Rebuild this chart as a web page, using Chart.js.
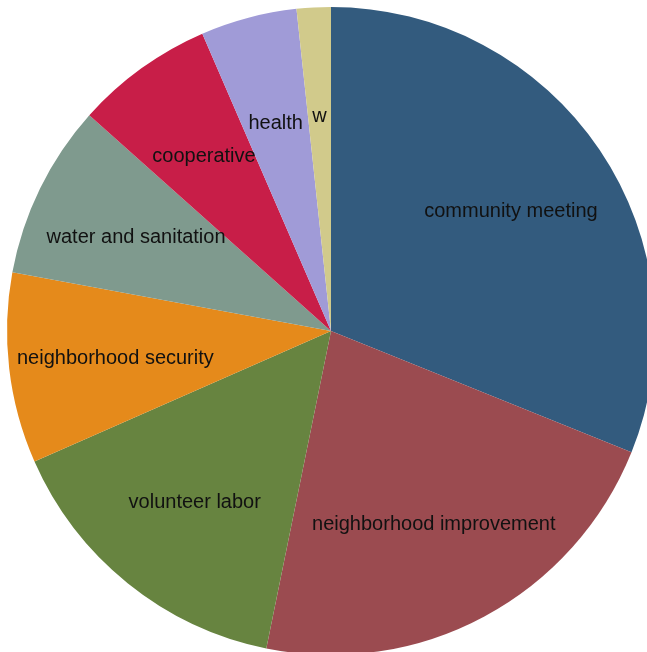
<!DOCTYPE html>
<html>
<head>
<meta charset="utf-8">
<script src="https://cdn.jsdelivr.net/npm/chart.js@4/dist/chart.umd.min.js"></script>
<style>
    html, body { margin: 0; padding: 0; overflow: hidden; background: #fff; }
    #wrap { width: 647px; height: 652px; overflow: hidden; }
</style>
</head>
<body>
<div id="wrap"><canvas id="pie" width="662" height="662"></canvas></div>
<script>
// Categories and shares (percent, clockwise from 12 o'clock)
const categories = [
    'community meeting',
    'neighborhood improvement',
    'volunteer labor',
    'neighborhood security',
    'water and sanitation',
    'cooperative',
    'health',
    'w'
];
const shares = [31.1, 22.1, 15.2, 9.5, 8.7, 6.9, 4.8, 1.7];
const sliceColors = ['#335b7e', '#9b4b50', '#678440', '#e58a1b', '#7f9a8e', '#c81e48', '#a09bd7', '#d1ca8b'];

// Draw the category name inside each slice
const sliceLabels = {
    id: 'sliceLabels',
    afterDatasetsDraw(chart) {
        const ctx = chart.ctx;
        const meta = chart.getDatasetMeta(0);
        ctx.save();
        ctx.font = '20px "Liberation Sans", Arial, sans-serif';
        ctx.fillStyle = '#111';
        ctx.textAlign = 'center';
        ctx.textBaseline = 'middle';
        meta.data.forEach((arc, i) => {
            const p = arc.getProps(['x', 'y', 'startAngle', 'endAngle', 'outerRadius'], true);
            const mid = (p.startAngle + p.endAngle) / 2;
            const r = p.outerRadius * 0.67;
            ctx.fillText(categories[i], p.x + Math.cos(mid) * r, p.y + Math.sin(mid) * r + 2);
        });
        ctx.restore();
    }
};

new Chart(document.getElementById('pie').getContext('2d'), {
    type: 'pie',
    data: {
        labels: categories,
        datasets: [{
            data: shares,
            backgroundColor: sliceColors,
            borderWidth: 0
        }]
    },
    options: {
        responsive: false,
        animation: false,
        layout: { padding: 7 },
        plugins: {
            legend: { display: false },
            tooltip: { enabled: false }
        }
    },
    plugins: [sliceLabels]
});
</script>
</body>
</html>
